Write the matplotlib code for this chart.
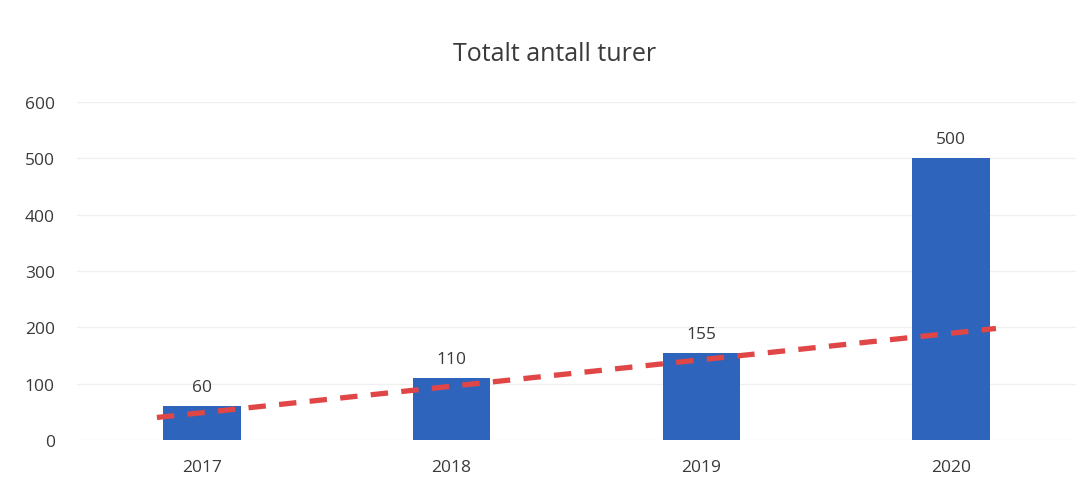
"""Totalt antall turer: bar chart with dashed trend line."""

import matplotlib
matplotlib.use("Agg")
import matplotlib.pyplot as plt
import numpy as np

years = ["2017", "2018", "2019", "2020"]
turer = [60, 110, 155, 500]

# dashed trend line, start/end values as drawn in the original
trend_x = [-0.18, 3.18]
trend_y = [40, 198]

yticks = [0, 100, 200, 300, 400, 500, 600]

plt.rcParams.update({
    "font.family": ["Open Sans", "DejaVu Sans"],
    "font.size": 12,
})

BAR_COLOR = "#2f64bd"
TREND_COLOR = "#e04646"
TEXT_COLOR = "#3a3a3a"

fig = plt.figure(figsize=(10.78, 4.85), dpi=100)
ax = fig.add_axes([0.0714, 0.0907, 0.9266, 0.6969])

x = np.arange(len(years))
ax.bar(x, turer, width=0.31, color=BAR_COLOR, zorder=2)

for xi, v in zip(x, turer):
    ax.annotate(f"{v}", xy=(xi, v), xytext=(0, 8), textcoords="offset points",
                ha="center", va="bottom", fontsize=12.5, color=TEXT_COLOR)

ax.plot(trend_x, trend_y, color=TREND_COLOR, lw=3.8, dashes=(3.3, 2.52),
        dash_capstyle="butt", zorder=3)

ax.set_xlim(-0.5, 3.5)
ax.set_ylim(0, 600)
ax.set_yticks(yticks)
ax.set_xticks(x)
ax.set_xticklabels(years)
ax.tick_params(axis="both", length=0, labelcolor=TEXT_COLOR, labelsize=12.5)
ax.tick_params(axis="y", pad=16)
ax.tick_params(axis="x", pad=14)
ax.grid(axis="y", color="#f0f0f0", lw=1, zorder=0)
for s in ax.spines.values():
    s.set_visible(False)

fig.text(0.514, 0.887, "Totalt antall turer", ha="center", va="center",
         fontsize=18, color=TEXT_COLOR)

fig.savefig("out.png", dpi=100)
